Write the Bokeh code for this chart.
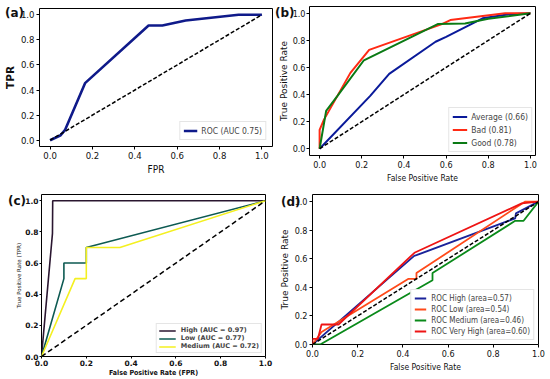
from bokeh.plotting import figure
from bokeh.layouts import column, row
from bokeh.models import (Range1d, Legend, LegendItem, FixedTicker,
                          PrintfTickFormatter, Div)
from bokeh.embed import file_html
from bokeh.resources import INLINE

# ---------------- data ----------------
ticks = [0.0, 0.2, 0.4, 0.6, 0.8, 1.0]
diag = [0.0, 1.0]
panel_names = ["(a)", "(b)", "(c)", "(d)"]

# (a)
a_fpr = [0.0, 0.05, 0.07, 0.165, 0.465, 0.53, 0.64, 0.89, 1.0]
a_tpr = [0.0, 0.04, 0.08, 0.455, 0.915, 0.915, 0.955, 1.0, 1.0]
a_label = "ROC (AUC 0.75)"

# (b)
b_avg_fpr = [0.0, 0.24, 0.33, 0.55, 0.60, 0.773, 0.898, 1.0]
b_avg_tpr = [0.0, 0.39, 0.553, 0.79, 0.826, 0.963, 0.993, 1.0]
b_bad_fpr = [0.0, 0.0, 0.02, 0.146, 0.235, 0.58, 0.62, 0.88, 1.0]
b_bad_tpr = [0.0, 0.139, 0.213, 0.56, 0.73, 0.92, 0.95, 1.0, 1.0]
b_good_fpr = [0.0, 0.031, 0.083, 0.21, 0.56, 0.69, 0.80, 1.0]
b_good_tpr = [0.0, 0.28, 0.387, 0.653, 0.92, 0.925, 0.96, 1.0]
b_labels = ["Average (0.66)", "Bad (0.81)", "Good (0.78)"]

# (c)
c_high_fpr = [0.0, 0.049, 0.05, 1.0]
c_high_tpr = [0.0, 0.79, 1.0, 1.0]
c_low_fpr = [0.0, 0.1, 0.1, 0.2, 0.2, 1.0]
c_low_tpr = [0.0, 0.5, 0.6, 0.6, 0.7, 1.0]
c_med_fpr = [0.0, 0.15, 0.2, 0.2, 0.35, 1.0]
c_med_tpr = [0.0, 0.5, 0.5, 0.7, 0.7, 1.0]
c_labels = ["High (AUC = 0.97)", "Low (AUC = 0.77)", "Medium (AUC = 0.72)"]

# (d)
d_high_fpr = [0.0, 0.45, 0.46, 0.897, 0.9, 1.0]
d_high_tpr = [0.0, 0.62, 0.625, 0.883, 0.918, 1.0]
d_low_fpr = [0.0, 0.04, 0.425, 0.46, 0.46, 0.94, 1.0]
d_low_tpr = [0.0, 0.087, 0.46, 0.46, 0.5, 1.0, 1.0]
d_med_fpr = [0.0, 0.034, 0.531, 0.531, 0.897, 0.934, 1.0]
d_med_tpr = [0.0, 0.0, 0.45, 0.5, 0.866, 0.866, 1.0]
d_vh_fpr = [0.0, 0.0, 0.024, 0.04, 0.115, 0.451, 0.926, 1.0]
d_vh_tpr = [0.0, 0.04, 0.04, 0.14, 0.14, 0.642, 0.988, 1.0]
d_labels = ["ROC High (area=0.57)", "ROC Low (area=0.54)",
            "ROC Medium (area=0.46)", "ROC Very High (area=0.60)"]

NARROW = "'DejaVu Sans Condensed', 'DejaVu Sans', sans-serif"
WIDE = "'DejaVu Sans', sans-serif"


def make_fig(w, h, xr, yr, bl, br, bt, bb, xlabel, ylabel, tick_fs, xlab_fs, ylab_fs,
             xfont=NARROW, yfont=WIDE, xlab_style="normal", ylab_style="normal",
             tick_style="normal", tick_font=NARROW):
    p = figure(width=w, height=h, x_range=Range1d(*xr), y_range=Range1d(*yr),
               output_backend="svg", toolbar_location=None,
               min_border_left=bl, min_border_right=br,
               min_border_top=bt, min_border_bottom=bb)
    p.grid.visible = False
    p.outline_line_color = "black"
    p.outline_line_width = 1
    p.background_fill_color = "white"
    p.border_fill_color = "white"
    for ax in (p.xaxis[0], p.yaxis[0]):
        ax.ticker = FixedTicker(ticks=ticks)
        ax.formatter = PrintfTickFormatter(format="%.1f")
        ax.axis_line_color = None
        ax.minor_tick_line_color = None
        ax.major_tick_out = 3
        ax.major_tick_in = 0
        ax.major_label_standoff = 2
        ax.axis_label_standoff = 2
        ax.major_label_text_font = tick_font
        ax.major_label_text_font_size = tick_fs
        ax.major_label_text_font_style = tick_style
        ax.major_label_text_color = "#111111"
        ax.axis_label_text_color = "#111111"
    p.xaxis.axis_label = xlabel
    p.yaxis.axis_label = ylabel
    p.xaxis.axis_label_text_font = xfont
    p.yaxis.axis_label_text_font = yfont
    p.xaxis.axis_label_text_font_size = xlab_fs
    p.yaxis.axis_label_text_font_size = ylab_fs
    p.xaxis.axis_label_text_font_style = xlab_style
    p.yaxis.axis_label_text_font_style = ylab_style
    return p


def legend(p, items, fs, font, style="normal", glyph_w=20, spacing=0, pad=4,
           label_h=10, margin=4, standoff=5):
    lg = Legend(items=items, location="bottom_right", label_text_font=font,
                label_text_font_size=fs, label_text_font_style=style,
                border_line_color="#cccccc", border_line_width=1,
                background_fill_alpha=1.0, glyph_width=glyph_w, glyph_height=label_h,
                label_height=label_h, spacing=spacing, padding=pad, margin=margin,
                label_standoff=standoff)
    p.add_layout(lg)


def panel_div(text, left, top):
    return Div(text=text, width=24, height=14, margin=0,
               styles={"position": "absolute", "left": f"{left}px", "top": f"{top}px",
                       "z-index": "10", "font-family": "'DejaVu Sans', sans-serif",
                       "font-weight": "bold", "font-size": "12px", "line-height": "14px",
                       "color": "#111111"})


# ---------------- (a) ----------------
pa = make_fig(275, 190, (-0.05, 1.05), (-0.05, 1.05), 38, 3, 8, 44,
              "FPR", "TPR", "9.5px", "10px", "10.5px", ylab_style="bold")
ra = pa.line(a_fpr, a_tpr, line_color="#0f1a8a", line_width=2.6)
pa.line(diag, diag, line_color="black", line_width=1.5, line_dash="4 2")
legend(pa, [LegendItem(label=a_label, renderers=[ra])], "8.5px", NARROW,
       glyph_w=14, pad=3, label_h=11, margin=6, standoff=4)

# ---------------- (b) ----------------
pb = make_fig(275, 190, (-0.048, 1.024), (-0.05, 1.05), 30, 15, 6, 35,
              "False Positive Rate", "True Positive Rate", "9px", "8.5px", "9px")
pb.yaxis.major_label_standoff = 1
pb.yaxis.axis_label_standoff = 1
pb.yaxis.major_tick_out = 3
r1 = pb.line(b_avg_fpr, b_avg_tpr, line_color="#0a1a9a", line_width=2)
r2 = pb.line(b_bad_fpr, b_bad_tpr, line_color="#ff2a14", line_width=2)
r3 = pb.line(b_good_fpr, b_good_tpr, line_color="#0a7a14", line_width=2)
pb.line(diag, diag, line_color="black", line_width=1.5, line_dash="4 2")
legend(pb, [LegendItem(label=b_labels[0], renderers=[r1]),
            LegendItem(label=b_labels[1], renderers=[r2]),
            LegendItem(label=b_labels[2], renderers=[r3])], "8.5px", NARROW,
       glyph_w=15, spacing=2, pad=3, label_h=11, margin=3, standoff=4)

# ---------------- (c) ----------------
pc = make_fig(275, 189, (0.0, 1.0), (0.0, 1.04), 41, 10, 4, 22,
              "False Positive Rate (FPR)", "True Positive Rate (TPR)", "7.5px", "7px",
              "5.5px", xfont=NARROW, xlab_style="bold", tick_style="bold", tick_font=WIDE)
for ax in (pc.xaxis[0], pc.yaxis[0]):
    ax.major_tick_out = 2
    ax.major_label_standoff = 1
    ax.axis_label_standoff = 0
c1 = pc.line(c_high_fpr, c_high_tpr, line_color="#2a1630", line_width=1.6)
c2 = pc.line(c_low_fpr, c_low_tpr, line_color="#0d5a52", line_width=1.6)
c3 = pc.line(c_med_fpr, c_med_tpr, line_color="#f4f020", line_width=1.6)
pc.line(diag, diag, line_color="black", line_width=1.5, line_dash="5 3")
legend(pc, [LegendItem(label=c_labels[0], renderers=[c1]),
            LegendItem(label=c_labels[1], renderers=[c2]),
            LegendItem(label=c_labels[2], renderers=[c3])], "6.5px", WIDE, style="bold",
       glyph_w=17, spacing=0, pad=2, label_h=7, margin=3)

# ---------------- (d) ----------------
pd_ = make_fig(275, 189, (0.0, 1.0), (0.0, 1.05), 37, 12, 4, 35,
               "False Positive Rate", "True Positive Rate", "9px", "8.5px", "9px")
d1 = pd_.line(d_high_fpr, d_high_tpr, line_color="#1a239a", line_width=1.8)
d2 = pd_.line(d_low_fpr, d_low_tpr, line_color="#ff4a1a", line_width=1.8)
d3 = pd_.line(d_med_fpr, d_med_tpr, line_color="#0a8a1a", line_width=1.8)
d4 = pd_.line(d_vh_fpr, d_vh_tpr, line_color="#ee1414", line_width=1.8)
pd_.line(diag, diag, line_color="black", line_width=1.5, line_dash="4 2")
legend(pd_, [LegendItem(label=d_labels[0], renderers=[d1]),
             LegendItem(label=d_labels[1], renderers=[d2]),
             LegendItem(label=d_labels[2], renderers=[d3]),
             LegendItem(label=d_labels[3], renderers=[d4])], "8px", NARROW,
       glyph_w=12, spacing=1, pad=3, label_h=10, margin=4, standoff=5)

divs = [panel_div(panel_names[0], 5, 6), panel_div(panel_names[1], 275, 6),
        panel_div(panel_names[2], 8, 194), panel_div(panel_names[3], 281, 195)]

layout = column(row(column(pa), column(pb), spacing=0),
                row(column(pc), column(pd_), spacing=0), *divs, spacing=0)
open("out.html", "w").write(file_html(layout, INLINE))
